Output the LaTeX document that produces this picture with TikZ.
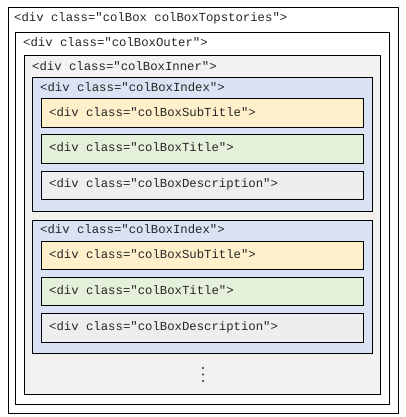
\documentclass[tikz,border=0pt]{standalone}
\usepackage{fontspec}
\setmonofont{Liberation Mono}
\definecolor{cyellow}{HTML}{FFF0CC}
\definecolor{cgreen}{HTML}{E4F0D9}
\definecolor{cblue}{HTML}{DAE3F4}
\definecolor{cgray}{HTML}{F3F2F1}
\definecolor{cdesc}{HTML}{EFEEEE}
\begin{document}
\begin{tikzpicture}[x=1pt,y=-1pt,
  frame/.style={draw=black, line width=0.9pt},
  lbl/.style={anchor=mid west, inner sep=0pt, yshift=-1.5pt, font=\fontsize{12.3}{14}\ttfamily, text=black!85}]
\useasboundingbox[fill=white] (0,0) rectangle (405,417);
\draw[frame] (8,7) rectangle (398,413);
\node[lbl] (t0) at (14,18) {<div class="colBox colBoxTopstories">};
\draw[frame, fill=white] (15,32) rectangle (389,404);
\node[lbl] (t1) at (23,43) {<div class="colBoxOuter">};
\draw[frame, fill=cgray] (24,55) rectangle (380,394);
\node[lbl] (t2) at (32,67) {<div class="colBoxInner">};
% index 1
\draw[frame, fill=cblue] (32,77) rectangle (372,211);
\node[lbl] (i1) at (40,88) {<div class="colBoxIndex">};
\draw[frame, fill=cyellow] (41,98) rectangle (363,127);
\node[lbl] (s1) at (49,112.5) {<div class="colBoxSubTitle">};
\draw[frame, fill=cgreen] (41,134) rectangle (363,163);
\node[lbl] (ti1) at (49,148) {<div class="colBoxTitle">};
\draw[frame, fill=cdesc] (41,171) rectangle (363,199);
\node[lbl] (d1) at (49,184) {<div class="colBoxDescription">};
% index 2
\draw[frame, fill=cblue] (32,220) rectangle (372,353);
\node[lbl] (i2) at (40,230) {<div class="colBoxIndex">};
\draw[frame, fill=cyellow] (41,241) rectangle (363,269);
\node[lbl] (s2) at (49,254.5) {<div class="colBoxSubTitle">};
\draw[frame, fill=cgreen] (41,277) rectangle (363,305);
\node[lbl] (ti2) at (49,291) {<div class="colBoxTitle">};
\draw[frame, fill=cdesc] (41,313) rectangle (363,342);
\node[lbl] (d2) at (49,327) {<div class="colBoxDescription">};
% dots
\foreach \yy in {368,374.5,381} \fill[black!80] (203,\yy) circle (1.2);
\end{tikzpicture}
\end{document}
